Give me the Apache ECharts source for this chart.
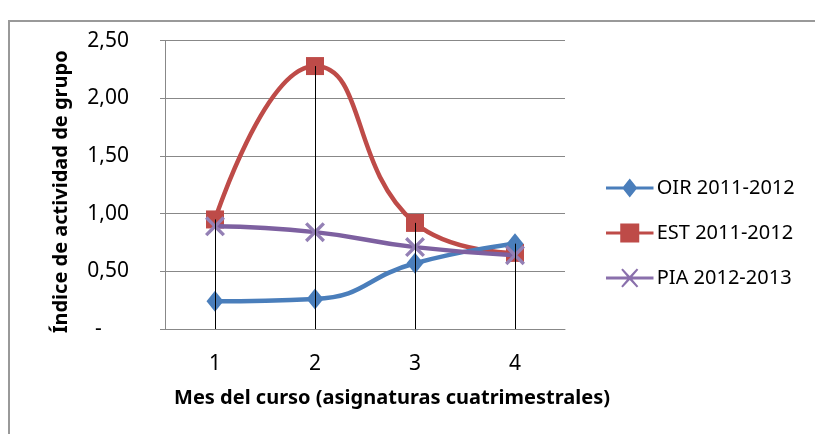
<!DOCTYPE html>
<html><head><meta charset="utf-8">
<script src="https://cdn.jsdelivr.net/npm/echarts@6/dist/echarts.min.js"></script>
<style>html,body{margin:0;padding:0;background:#fff}#c{width:815px;height:434px}</style>
</head><body><div id="c"></div>
<script>
const categories = ['1','2','3','4'];
const oir = [0.24, 0.26, 0.57, 0.74];
const est = [0.95, 2.28, 0.92, 0.66];
const pia = [0.89, 0.84, 0.71, 0.64];
const seriesNames = ['OIR 2011-2012','EST 2011-2012','PIA 2012-2013'];

const FONT = 'Noto Sans';
const dropTops = categories.map((c,i)=>Math.max(oir[i],est[i],pia[i]));
const xPath = 'path://M0,1.2L1.2,0L5,3.8L8.8,0L10,1.2L6.2,5L10,8.8L8.8,10L5,6.2L1.2,10L0,8.8L3.8,5Z';
const bar = 'M0,8.3L50,8.3L50,11.7L0,11.7Z';
const icons = [
  'path://' + bar + 'M25,0L33,10L25,20L17,10Z',
  'path://' + bar + 'M15,0L35,0L35,20L15,20Z',
  'path://' + bar + 'M16,1.2L17.6,0L25,7.8L32.4,0L34,1.2L26.6,10L34,18.8L32.4,20L25,12.2L17.6,20L16,18.8L23.4,10Z'
];

const chart = echarts.init(document.getElementById('c'), null, {renderer:'canvas'});
chart.setOption({
  animation:false,
  textStyle:{fontFamily:FONT},
  graphic:[{type:'rect', shape:{x:9,y:21,width:900,height:500}, style:{fill:'none', stroke:'#999', lineWidth:2}, silent:true}],
  grid:{left:165, right:250, top:40.7, bottom:105},
  legend:{
    orient:'vertical', left:601, top:173, itemWidth:50, itemHeight:19, itemGap:25,
    textStyle:{fontFamily:FONT, fontSize:20, color:'#000', padding:[0,0,0,-3]},
    data:[
      {name:seriesNames[0], icon:icons[0], itemStyle:{color:'#4A7EBB'}},
      {name:seriesNames[1], icon:icons[1], itemStyle:{color:'#BE4B48'}},
      {name:seriesNames[2], icon:icons[2], itemStyle:{color:'#8A70AC'}}
    ]
  },
  xAxis:{
    type:'category', data:categories, boundaryGap:true,
    axisLine:{lineStyle:{color:'#888', width:1}},
    axisTick:{show:false},
    axisLabel:{fontSize:21, color:'#000', margin:25, fontFamily:FONT},
    name:'Mes del curso (asignaturas cuatrimestrales)', nameLocation:'middle', nameGap:59,
    nameTextStyle:{fontSize:20, fontWeight:'bold', color:'#000', fontFamily:FONT, padding:[0,0,0,54]}
  },
  yAxis:{
    type:'value', min:0, max:2.5, interval:0.5,
    axisLine:{show:true, lineStyle:{color:'#888', width:1}},
    axisTick:{show:true, inside:false, length:5, lineStyle:{color:'#888'}},
    splitLine:{lineStyle:{color:'#888', width:1}},
    axisLabel:{fontSize:21, color:'#000', margin:36, fontFamily:FONT,
      formatter:v=> v===0 ? '-     ' : v.toFixed(2).replace('.',',')},
    name:'Índice de actividad de grupo', nameLocation:'middle', nameGap:94, nameRotate:90,
    nameTextStyle:{fontSize:20, fontWeight:'bold', color:'#000', fontFamily:FONT, padding:[0,14,0,0]}
  },
  series:[
    {name:seriesNames[0], type:'line', data:oir, smooth:0.5, symbol:'diamond', symbolSize:[17,21],
      lineStyle:{color:'#4A7EBB', width:4.5}, itemStyle:{color:'#4A7EBB'}, z:3,
      markLine:{silent:true, symbol:'none', label:{show:false}, z:10,
        lineStyle:{color:'#000', width:1, type:'solid'},
        data: categories.map((c,i)=>[{coord:[i,0]},{coord:[i,dropTops[i]]}])}},
    {name:seriesNames[1], type:'line', data:est, smooth:0.5, symbol:'rect', symbolSize:18,
      lineStyle:{color:'#BE4B48', width:4.5}, itemStyle:{color:'#BE4B48'}, z:2},
    {name:seriesNames[2], type:'line', data:pia, smooth:0.5, symbol:xPath, symbolSize:20,
      lineStyle:{color:'#7D60A0', width:4.5}, itemStyle:{color:'#9480B5'}, z:4}
  ]
});
</script></body></html>
